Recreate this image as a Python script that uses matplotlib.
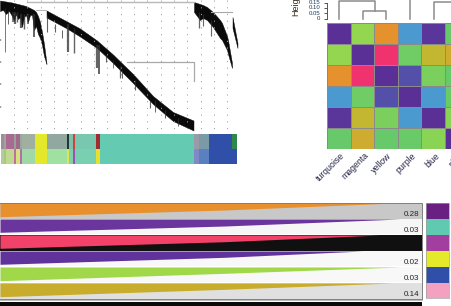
import numpy as np
import matplotlib
matplotlib.use('Agg')
import matplotlib.pyplot as plt
from matplotlib.colors import LinearSegmentedColormap

W, H = 451, 306

# gene tree: upper edge and lower edge of the black band per branch
branch1_x = [0, 3, 6, 9, 12, 14, 16, 18, 20, 22, 24, 26, 28, 30, 32, 34, 36, 38, 40, 42, 44, 46.5]
branch1_top = [0.5, 1, 1.5, 2, 2.5, 3, 3.5, 4, 4.5, 5, 5.5, 6, 7, 8, 9, 10, 12, 16, 22, 32, 44, 63]
branch1_bot = [11, 10, 14, 11, 16, 21, 14, 19, 17, 27, 17, 15, 22, 15, 15, 30, 26, 34, 38, 45, 56, 64]
branch2_x = [46.5, 67, 80, 97, 113, 133, 153, 173, 193.5]
branch2_top = [10.5, 21.5, 28.5, 40.5, 54.5, 74, 96, 112, 120.5]
branch2_bot = [17.5, 28.5, 36.5, 48, 63, 83, 104, 121, 130.5]
branch3_x = [194, 200, 203, 207, 213, 220, 222, 227, 228, 232]
branch3_top = [2, 4, 5, 7, 12, 20, 23, 36, 40, 63]
branch3_bot = [12, 20, 18, 20, 27, 38, 40, 50, 54, 68]
branch4_x = [232.5, 237.5]
branch4_top = [17, 43]
branch4_bot = [28, 48]

# thin spikes hanging off the tree
spike_x = [5, 8, 13, 15, 17, 21, 24, 28, 34, 47, 55, 62, 68, 74, 97, 99, 106, 113, 120, 122, 135, 150, 155, 165, 178, 199, 203, 211]
spike_top = [8, 10, 12, 12, 12, 14, 14, 14, 14, 15, 24, 30, 24, 28, 45, 45, 55, 60, 66, 70, 80, 100, 100, 110, 118, 12, 14, 20]
spike_bot = [52, 24, 22, 24, 22, 28, 29, 24, 37, 32, 32, 38, 52, 53, 68, 74, 62, 68, 78, 78, 90, 108, 112, 118, 126, 28, 26, 36]
spike_w = [0.6, 0.7, 1.2, 1.6, 1, 1.6, 1, 1.2, 1.4, 0.8, 0.8, 0.7, 1.6, 1, 1.6, 1.4, 0.8, 0.6, 0.9, 0.7, 0.8, 0.8, 0.7, 0.8, 0.7, 0.9, 0.8, 0.8]
guide_x = [14, 27, 41, 54, 67, 81, 94, 107, 121, 134, 147, 161, 174, 187, 201, 214, 227]
axis_tick_top = [39, 61, 83, 106]
axis_tick_bot = [40, 62, 84, 107]

# module strips, segment edges and colours
strip_edges = [1, 4, 6, 14, 16, 20, 22, 35, 47, 67, 69, 72.7, 75, 96, 100, 194, 199, 209, 232, 237.5]
strip_top = ['#9a8f98', '#a8a0a0', '#a86a90', '#98a09a', '#a06a8a', '#98a8a0', '#a0b0a0', '#e4e82a',
             '#90a8a0', '#1c3a34', '#80c0a8', '#d04040', '#78c8b0', '#a02c30', '#64cab2', '#9a9aa8',
             '#7a9aa8', '#2f4fa8', '#2f8848']
strip_bot = ['#b8c8a0', '#a8c880', '#c0d890', '#c070a0', '#d8e080', '#b070a8', '#a0d8a8', '#e4e82a',
             '#a0e0a0', '#d8e850', '#80d0b0', '#a050b0', '#78d0b0', '#e8e030', '#64cab2', '#8088c8',
             '#5a80c0', '#2f4fa8', '#2f4fa8']

# module heatmap
mods = ['turquoise', 'magenta', 'yellow', 'purple', 'blue', 'pink']
diss = [[0.00, 0.65, 0.85, 0.35, 0.04, 0.52],
        [0.65, 0.00, 1.00, 0.55, 0.75, 0.78],
        [0.85, 1.00, 0.00, 0.20, 0.58, 0.52],
        [0.35, 0.55, 0.20, 0.00, 0.35, 0.53],
        [0.04, 0.75, 0.58, 0.35, 0.00, 0.62],
        [0.52, 0.78, 0.52, 0.53, 0.62, 0.00]]
height_ticks = [0, 0.05, 0.10, 0.15]
height_labels = ['0', '0.05', '0.10', '0.15']

# bands in the lower panel
band_cols = ['#e8902e', '#6a359c', '#f2426a', '#5f329c', '#a0d84a', '#c8ac2c']
wedge_cols = ['#c8c8c8', '#f6f6f6', '#101010', '#f8f8f8', '#f8f8f8', '#e0e0e0']
band_top = [203.3, 219, 235, 251, 267, 283]
band_bot = [216.7, 232.3, 248.3, 264.3, 280.7, 296.7]
band_mid = [210, 226, 241.7, 257.3, 273.3, 289.3]
row_bot = [219, 233.5, 251, 266, 282, 298.5]
band_end = [387, 400, 380, 363, 400, 393]
band_vals = ['0.28', '0.03', '', '0.02', '0.03', '0.14']
band_val_y = [214, 230, 0, 262, 278, 294]
swatches = ['#6a1f82', '#5fcab0', '#a13ea0', '#e4ea2a', '#2f4fa8', '#f4a0c0']

fig = plt.figure(figsize=(W / 100, H / 100), dpi=100)


def pixel_axes(x0, y0, x1, y1):
    ax = fig.add_axes([x0 / W, 1 - y1 / H, (x1 - x0) / W, (y1 - y0) / H])
    ax.set_xlim(x0, x1)
    ax.set_ylim(y1, y0)
    ax.axis('off')
    return ax


# tree panel
ax = pixel_axes(0, 0, 240, 131)
ax.vlines(guide_x, 0, 130, color='#a0a0a0', lw=0.7, linestyles=(0, (1.2, 5.7)))
ax.plot([27, 194], [1.7, 1.7], color='#b8b8b8', lw=1)
ax.plot([36, 46], [10, 10], color='#b8b8b8', lw=0.8)
ax.plot([127, 194, 194], [62, 62, 81], color='#a8a8a8', lw=0.9)
ax.plot([211, 232], [11.7, 11.7], color='#a8a8a8', lw=0.8)
ax.vlines(spike_x, spike_top, spike_bot, color='#303030', linewidth=spike_w, alpha=0.75)
ax.fill_between(branch1_x, branch1_top, branch1_bot, facecolor='#0a0a0a', edgecolor='#0a0a0a', lw=0.3)
ax.fill_between(branch2_x, branch2_top, branch2_bot, facecolor='#0a0a0a', edgecolor='#0a0a0a', lw=0.3)
ax.fill_between(branch3_x, branch3_top, branch3_bot, facecolor='#0a0a0a', edgecolor='#0a0a0a', lw=0.3)
ax.fill_between(branch4_x, branch4_top, branch4_bot, facecolor='#0a0a0a', edgecolor='#0a0a0a', lw=0.3)
ax.vlines([0.3] * 4, axis_tick_top, axis_tick_bot, color='#404040', lw=1)

# module strips
ax = pixel_axes(0, 132, 240, 165)
for i in range(len(strip_top)):
    x = strip_edges[i:i + 2]
    ax.fill_between(x, 133.5, 148.5, color=strip_top[i], lw=0)
    ax.fill_between(x, 148.5, 163.5, color=strip_bot[i], lw=0)

# heatmap, last column runs off the figure
cmap = LinearSegmentedColormap.from_list('diss', [
    (0, '#5b3096'), (0.2, '#5450aa'), (0.35, '#4a9ad0'), (0.52, '#66c96a'), (0.65, '#94d64f'),
    (0.76, '#c6b42f'), (0.86, '#e88f2e'), (1, '#f0336f')])
ax = fig.add_axes([327.3 / W, 1 - 149.2 / H, (451 - 327.3) / W, 126.7 / H])
ax.pcolormesh(diss, cmap=cmap, vmin=0, vmax=1, edgecolors='#8a8a8a', linewidth=0.6)
ax.set_xlim(0, (451 - 327.3) / 23.5)
ax.set_ylim(6, 0)
ax.set_xticks([])
ax.set_yticks([])
for s in ax.spines.values():
    s.set_visible(False)

# module tree and labels on a whole-figure layer
ax = pixel_axes(0, 0, W, H)
ax.patch.set_alpha(0)
tree_col = '#8c8c8c'
ax.plot([339, 339, 374.5, 374.5], [19, 1, 1, 10.5], color=tree_col, lw=1.1)
ax.plot([362.5, 362.5, 386, 386], [19, 10.5, 10.5, 19], color=tree_col, lw=1.1)
ax.plot([410, 410], [0, 19], color=tree_col, lw=1.1)
ax.plot([433.5, 433.5, 451], [19, 1.5, 1.5], color=tree_col, lw=1.1)
tick_y = [18.5 - v / 0.05 * 5.3 for v in height_ticks]
ax.plot([327, 327], [tick_y[0], tick_y[-1]], color='#555555', lw=0.7)
ax.hlines(tick_y, 323.5, 327, color='#555555', lw=0.7)
for y, lab in zip(tick_y, height_labels):
    ax.text(320.5, y, lab, ha='right', va='center', fontsize=4.3, color='#1a3a5a', family='Liberation Sans')
ax.text(296, 16, 'Height', rotation=90, ha='center', va='bottom', fontsize=6.5, color='#3a2a1a',
        family='Liberation Sans')
for i, m in enumerate(mods):
    ax.text(340 + i * 23.7, 151, m, rotation=45, ha='right', va='top', rotation_mode='anchor',
            fontsize=6.3, color='#222244', family='Liberation Sans', clip_on=True)

# bands
ax.plot([0, 422.3, 422.3, 0], [203, 203, 298.8, 298.8], color='#808080', lw=0.7)
for i in range(len(band_cols)):
    ax.fill_between([0, 422.3], band_top[i], row_bot[i], color=wedge_cols[i], lw=0)
    ax.fill_between([0, 225, band_end[i]], band_top[i], [band_bot[i], band_mid[i], band_top[i]],
                    color=band_cols[i], lw=0)
    if band_vals[i]:
        ax.text(419, band_val_y[i], band_vals[i], ha='right', va='center', fontsize=5.8, color='#222222',
                family='Liberation Sans')
ax.fill_between([0, 422.3], 301.7, 306, color='#0a0a0a', lw=0)
ax.plot([0, 422.3], [300.3, 300.3], color='#b0b0b0', lw=0.6)
for i, c in enumerate(swatches):
    ax.fill_between([425.7, 449.3], 203.3 + i * 15.85, 203.3 + (i + 1) * 15.85, color=c, lw=0)
ax.plot([425.7, 449.3, 449.3, 425.7, 425.7], [203.3, 203.3, 298.4, 298.4, 203.3], color='#a0a0a0', lw=0.5)

fig.savefig('out.png', dpi=100)
